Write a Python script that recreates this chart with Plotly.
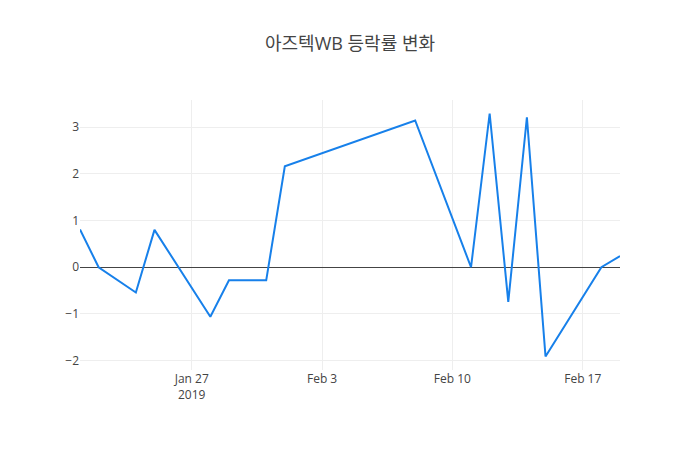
import plotly.graph_objects as go

dates = ["2019-01-21", "2019-01-22", "2019-01-24", "2019-01-25", "2019-01-28",
         "2019-01-29", "2019-01-31", "2019-02-01", "2019-02-08", "2019-02-11",
         "2019-02-12", "2019-02-13", "2019-02-14", "2019-02-15", "2019-02-18",
         "2019-02-19"]
rates = [0.81, 0.0, -0.54, 0.80, -1.06, -0.28, -0.28, 2.16, 3.14, 0.0,
         3.29, -0.74, 3.21, -1.91, 0.0, 0.24]

title_text = "아즈텍WB 등락률 변화"

fig = go.Figure(go.Scatter(x=dates, y=rates, mode="lines",
                           line=dict(color="#1780ea", width=2)))
fig.update_layout(
    title=dict(text=title_text, x=0.5, xanchor="center",
               font=dict(size=18, color="#444", family="Open Sans, Noto Sans CJK KR")),
    width=700, height=450,
    margin=dict(l=80, r=80, t=100, b=80),
    paper_bgcolor="white", plot_bgcolor="white",
    font=dict(family="Open Sans, Noto Sans CJK KR", color="#444", size=12),
    showlegend=False,
)
fig.update_xaxes(showgrid=True, gridcolor="#eee", zeroline=False, showline=False)
fig.update_yaxes(showgrid=True, gridcolor="#eee", zeroline=True, zerolinecolor="#444",
                 zerolinewidth=1, showline=False)
fig.write_html("out.html")
